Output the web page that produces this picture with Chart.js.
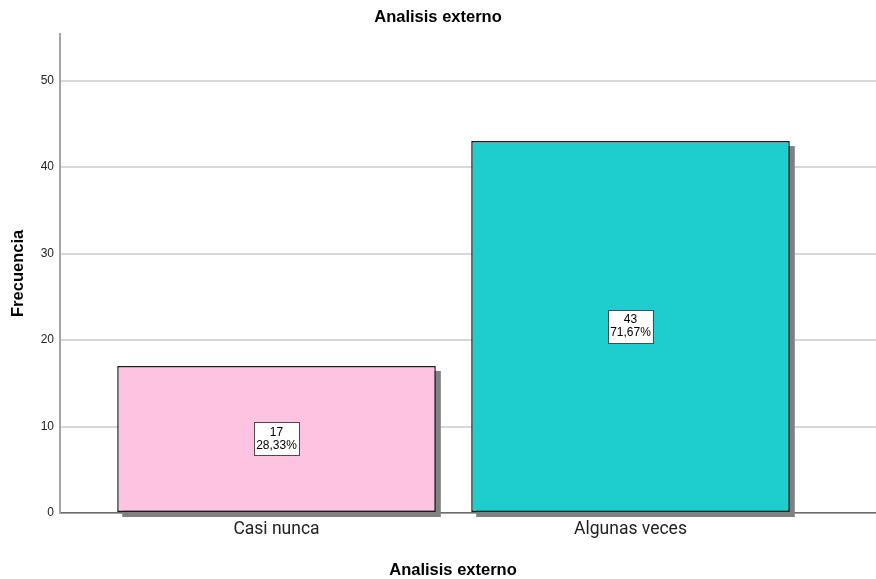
<!DOCTYPE html>
<html>
<head>
<meta charset="utf-8">
<title>Analisis externo</title>
<script src="https://cdn.jsdelivr.net/npm/chart.js@4/dist/chart.umd.min.js"></script>
<style>
  body { margin: 0; background: #fff; }
  #wrap { width: 876px; height: 579px; }
</style>
</head>
<body>
<div id="wrap"><canvas id="myChart" width="876" height="579"></canvas></div>
<script>
// Frequencies per answer
var categories = ['Casi nunca', 'Algunas veces'];
var counts = [17, 43];
var yTicks = [0, 10, 20, 30, 40, 50];
var barColors = ['#fec3e1', '#1ecece'];

var total = counts.reduce(function (a, b) { return a + b; }, 0);

// grey drop shadow behind each bar
var barShadow = {
  id: 'barShadow',
  beforeDatasetsDraw: function (chart) {
    var ctx = chart.ctx;
    var meta = chart.getDatasetMeta(0);
    ctx.save();
    ctx.fillStyle = '#808080';
    meta.data.forEach(function (bar) {
      ctx.fillRect(bar.x - bar.width / 2 + 5, bar.y + 5, bar.width, bar.base - bar.y);
    });
    ctx.restore();
  }
};

// white boxes with count and percent in the middle of each bar
var barLabels = {
  id: 'barLabels',
  afterDatasetsDraw: function (chart) {
    var ctx = chart.ctx;
    var meta = chart.getDatasetMeta(0);
    ctx.save();
    ctx.font = '12px "Liberation Sans", Arial, sans-serif';
    ctx.textAlign = 'center';
    ctx.textBaseline = 'middle';
    meta.data.forEach(function (bar, i) {
      var line1 = String(counts[i]);
      var line2 = (counts[i] / total * 100).toFixed(2).replace('.', ',') + '%';
      var w = Math.max(ctx.measureText(line1).width, ctx.measureText(line2).width) + 4;
      var h = 33;
      var cx = bar.x;
      var cy = (bar.y + bar.base) / 2;
      ctx.fillStyle = '#ffffff';
      ctx.fillRect(cx - w / 2, cy - h / 2, w, h);
      ctx.strokeStyle = '#4a4a4a';
      ctx.lineWidth = 1;
      ctx.strokeRect(Math.round(cx - w / 2) + 0.5, Math.round(cy - h / 2) + 0.5, Math.round(w), h);
      ctx.fillStyle = '#000000';
      ctx.fillText(line1, cx, cy - 6.5);
      ctx.fillText(line2, cx, cy + 6.5);
    });
    ctx.restore();
  }
};

// x axis title
var xTitle = {
  id: 'xTitle',
  afterDraw: function (chart) {
    var ctx = chart.ctx;
    ctx.save();
    ctx.font = 'bold 16.5px "Liberation Sans", Arial, sans-serif';
    ctx.fillStyle = '#000000';
    ctx.textAlign = 'center';
    ctx.textBaseline = 'middle';
    ctx.fillText('Analisis externo', 453, 570);
    ctx.restore();
  }
};

var ctx = document.getElementById('myChart').getContext('2d');
var myChart = new Chart(ctx, {
  type: 'bar',
  data: {
    datasets: [{
      label: 'Frecuencia',
      data: counts.map(function (v, i) { return { x: i, y: v }; }),
      backgroundColor: barColors,
      borderColor: '#1a1a1a',
      borderWidth: 1.5,
      borderSkipped: false,
      categoryPercentage: 1,
      barPercentage: 0.9
    }]
  },
  options: {
    responsive: false,
    animation: false,
    layout: { padding: 0 },
    scales: {
      x: {
        type: 'linear',
        offset: false,
        min: -0.6116,
        max: 1.6935,
        grid: { display: false, drawTicks: false },
        border: { color: '#6e6e6e', width: 1.5 },
        afterBuildTicks: function (scale) {
          scale.ticks = categories.map(function (c, i) { return { value: i }; });
        },
        afterFit: function (scale) { scale.height = 66; },
        ticks: {
          autoSkip: false,
          maxRotation: 0,
          padding: 6,
          color: '#222222',
          font: { family: 'Roboto, "Liberation Sans", sans-serif', size: 17.5 },
          callback: function (value) { return categories[value]; }
        }
      },
      y: {
        min: 0,
        max: 55.4,
        grid: { color: '#d8d8d8', lineWidth: 2, drawTicks: false },
        border: { color: '#a6a6a6', width: 2 },
        afterBuildTicks: function (scale) {
          scale.ticks = yTicks.map(function (v) { return { value: v }; });
        },
        afterFit: function (scale) { scale.width = 60; },
        ticks: {
          padding: 6,
          color: '#222222',
          font: { family: '"Liberation Sans", Arial, sans-serif', size: 12 }
        },
        title: {
          display: true,
          text: 'Frecuencia',
          color: '#000000',
          padding: { top: 9, bottom: 0 },
          font: { family: '"Liberation Sans", Arial, sans-serif', size: 16.5, weight: 'bold' }
        }
      }
    },
    plugins: {
      legend: { display: false },
      tooltip: { enabled: false },
      title: {
        display: true,
        text: 'Analisis externo',
        color: '#000000',
        padding: { top: 8, bottom: 6 },
        font: { family: '"Liberation Sans", Arial, sans-serif', size: 16.5, weight: 'bold' }
      }
    }
  },
  plugins: [barShadow, barLabels, xTitle]
});
</script>
</body>
</html>
